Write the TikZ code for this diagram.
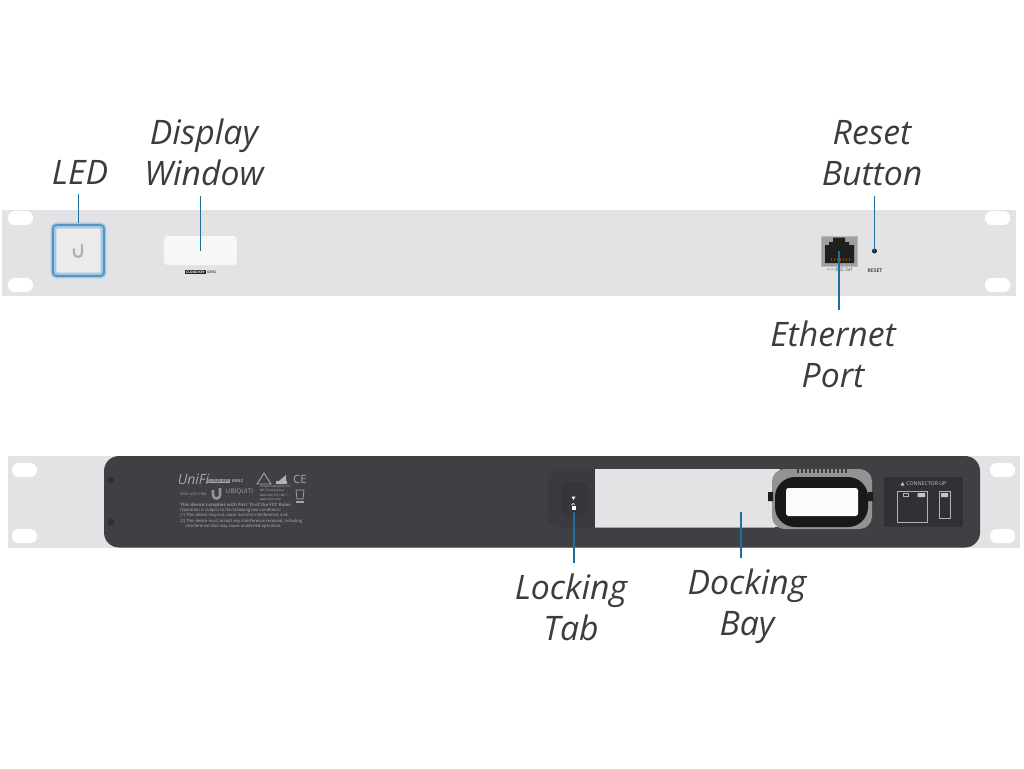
\documentclass[tikz,border=0pt]{standalone}
\usepackage{fontspec}
\setmainfont{Open Sans}
\usepackage{xcolor}
\usetikzlibrary{arrows.meta, positioning}
\definecolor{rackgray}{HTML}{E3E3E5}
\definecolor{bodydark}{HTML}{3F4044}
\definecolor{panelblue}{HTML}{2F3137}
\definecolor{leadblue}{HTML}{1F6E9C}
\definecolor{ledblue}{HTML}{5FA5D3}
\definecolor{labelgray}{HTML}{3C3C3E}
\tikzset{
  calloutlabel/.style={font=\fontsize{19.2}{23.3}\selectfont\itshape, text=labelgray,
    align=center, inner sep=0pt},
  leadline/.style={draw=leadblue, line width=1pt},
  finetext/.style={inner sep=0pt, text=#1},
  earhole/.style={fill=white, rounded corners=1.3mm}
}
\begin{document}
\begin{tikzpicture}[x=0.02cm, y=-0.02cm]
  \useasboundingbox (0,0) rectangle (1024,768);

  % Front panel
  \fill[rackgray] (2,210) rectangle (1016,296);
  \foreach \xh in {8,985} {
    \fill[earhole] (\xh,211) rectangle ++(25,14);
    \fill[earhole] (\xh,278) rectangle ++(25,14);
  }

  % LED
  \node[draw=ledblue!60, line width=3.4pt, rounded corners=2pt, fill=rackgray!70!white,
    minimum size=1cm, inner sep=0pt] (ledbox) at (78.5,250.5) {};
  \draw[ledblue!90!black, line width=1pt, rounded corners=2pt] (53,225) rectangle (104,276);
  \draw[gray!60, line width=1.3pt, line cap=round]
    (74,249) -- (74,253) arc[start angle=180, end angle=0, radius=4] -- (82,245);

  % Display window
  \node[fill=white!70!rackgray, rounded corners=2pt, minimum width=1.46cm, minimum height=0.58cm,
    inner sep=0pt] (displaywin) at (200.5,250.5) {};
  \node[fill=black!85, text=white, font=\fontsize{1.9}{3}\selectfont\bfseries, inner sep=0.4pt]
    (cloudtag) at (195.5,272) {CLOUD KEY};
  \node[finetext=black!65, font=\fontsize{2}{3}\selectfont\bfseries, right=0.5pt of cloudtag]
    (gentag) {GEN2};

  % Ethernet port
  \node[fill=gray!75, draw=gray!55, minimum width=0.72cm, minimum height=0.6cm, inner sep=0pt]
    (ethjack) at (839,251) {};
  \fill[black!88] (825,245) -- (829,245) -- (829,242) -- (833,242) -- (833,237.5) -- (845,237.5)
    -- (845,242) -- (849,242) -- (849,245) -- (854,245) -- (854,263) -- (825,263) -- cycle;
  \foreach \xp in {831,834,...,849} {
    \draw[orange!55!black, line width=0.3pt] (\xp,258) -- (\xp,261);
  }
  \node[finetext=black!65, font=\fontsize{2.8}{3}\selectfont] (ethtext) at (839.5,270)
    {<-> 802.3af};

  % Reset
  \node[circle, fill=black!85, minimum size=0.1cm, inner sep=0pt] (resetdot) at (874.5,251) {};
  \node[finetext=black!70, font=\fontsize{2.9}{3}\selectfont\bfseries] (resettext) at (875,270.5)
    {RESET};

  % Rear panel
  \fill[rackgray] (8,456) rectangle (1020,548);
  \foreach \xh in {12,990} {
    \fill[earhole] (\xh,463) rectangle ++(25,14);
    \fill[earhole] (\xh,529) rectangle ++(25,14);
  }
  \fill[bodydark, rounded corners=3mm] (104,456) rectangle (980,547.5);
  \foreach \ys in {480,522} {
    \fill[black!25!bodydark] (111,\ys) circle (3.5);
  }

  % Rating label
  \node[finetext=gray!70, font=\fontsize{8}{9}\selectfont\itshape] (unifitext) at (193.5,479) {UniFi};
  \node[fill=gray!70, text=bodydark, font=\fontsize{2.2}{3}\selectfont\bfseries, inner sep=0.5pt]
    (keytag) at (218.5,481) {CLOUD KEY};
  \node[finetext=gray!70, font=\fontsize{2.4}{3}\selectfont\bfseries, right=0.5pt of keytag]
    (gen2tag) {GEN2};
  \node[finetext=gray!70, font=\fontsize{6.5}{7}\selectfont] (cetext) at (300,479) {CE};
  \draw[gray!70, line width=0.5pt] (257,484) -- (264,473) -- (271,484) -- cycle;
  \fill[gray!60] (276,484) rectangle (287,481) (279,481) -- (286,475) -- (286,481) -- cycle;
  \node[finetext=gray!70, font=\fontsize{2.1}{3}\selectfont] (mntext) at (193.5,494) {M/N: UDC2-RM};
  \draw[gray!85, line width=1.5pt] (213,490) -- (213,495) arc[start angle=180, end angle=0, radius=3.5] -- (220,488);
  \node[finetext=gray!70, font=\fontsize{3.6}{4}\selectfont] (ubiqtext) at (239.5,491.5) {UBIQUITI};
  \node[finetext=gray!55, font=\fontsize{1.7}{2.5}\selectfont, align=left] (addrtext) at (275.5,493)
    {Ubiquiti Networks, Inc.\\685 Third Avenue\\New York, NY 10017\\www.ubnt.com};
  \draw[gray!70, line width=0.4pt] (296,490) -- (304,490) -- (303,499) -- (297,499) -- cycle;
  \fill[gray!70] (296,501) rectangle (304,502.5);
  \node[finetext=gray!85, font=\fontsize{2.54}{3}\selectfont\bfseries, anchor=west] (fcctext) at (180,505)
    {This device complies with Part 15 of the FCC Rules.};
  \node[finetext=gray!60, font=\fontsize{2.37}{3.1}\selectfont, align=left, anchor=north west]
    (rulestext) at (180,508)
    {Operation is subject to the following two conditions:\\
     (1) This device may not cause harmful interference, and\\
     (2) This device must accept any interference received, including\\
     \hspace*{3pt}interference that may cause undesired operation.};

  % Locking tab
  \fill[black!7!bodydark, rounded corners=2mm] (548,469) rectangle (610,527);
  \node[fill=black!16!bodydark, rounded corners=1.2mm, minimum width=0.52cm, minimum height=0.68cm,
    inner sep=0pt] (tabbox) at (574,499) {};
  \fill[white] (571.5,496.5) -- (575.5,496.5) -- (573.5,500) -- cycle;
  \node[fill=white, minimum width=0.08cm, minimum height=0.07cm, inner sep=0pt] (lockicon) at (574,508) {};
  \draw[white, line width=0.4pt] (571.5,505) arc[start angle=180, end angle=340, radius=1.6];

  % Docking bay
  \fill[rackgray] (595,469) rectangle (780,527);
  \draw[gray!70, line width=0.4pt] (595,527.5) -- (775,527.5);
  \coordinate (dockpoint) at (741,512);

  % Power adapter in the bay
  \fill[gray!85, rounded corners=2.5mm] (772,469) rectangle (872,529);
  \fill[black!90, rounded corners=4mm] (775,477) rectangle (868,527);
  \fill[white!90!rackgray, rounded corners=0.5mm] (786,488) rectangle (858,516);
  \fill[black!55!bodydark] (768,492) rectangle (773,501) (868,492) rectangle (873,501);
  \foreach \xt in {798,802,...,846} {
    \draw[black!75, line width=0.7pt] (\xt,469) -- (\xt,473);
  }

  % Connector panel
  \fill[panelblue] (884,477) rectangle (963,527);
  \node[finetext=gray!45, font=\fontsize{3}{4}\selectfont] (conntext) at (923.5,484)
    {\fontspec{DejaVu Sans}▲\ \fontspec{Open Sans}CONNECTOR UP};
  \draw[gray!60, line width=0.4pt] (897,491) rectangle (927,522) (939,491) rectangle (950,518)
    (903,493) rectangle (908,496);
  \fill[gray!45] (917.5,493) rectangle (925,497) (941,493) rectangle (948,497);

  % Callout labels
  \node[calloutlabel] (ledlabel) at (80,172) {LED};
  \node[calloutlabel] (displaylabel) at (204,152) {Display\\Window};
  \node[calloutlabel] (resetlabel) at (872,153) {Reset\\Button};
  \node[calloutlabel] (ethlabel) at (833,354) {Ethernet\\Port};
  \node[calloutlabel] (locklabel) at (571,607) {Locking\\Tab};
  \node[calloutlabel] (docklabel) at (747,606) {Docking\\Bay};

  % Callout lines
  \draw[leadline, shorten <=0.2cm] (ledlabel.south -| ledbox.north) -- (ledbox.north);
  \draw[leadline, shorten <=0.2cm] (displaylabel.south -| displaywin.center) -- (displaywin.center);
  \draw[leadline, shorten <=0.2cm] (resetlabel.south -| resetdot.center) -- (resetdot.center);
  \draw[leadline, shorten <=0.2cm] (ethlabel.north -| ethjack.center) -- (ethjack.center);
  \draw[leadline, shorten <=0.2cm, shorten >=0.04cm] (locklabel.north -| lockicon.south) -- (lockicon.south);
  \draw[leadline, shorten <=0.2cm] (docklabel.north -| dockpoint) -- (dockpoint);
\end{tikzpicture}
\end{document}
